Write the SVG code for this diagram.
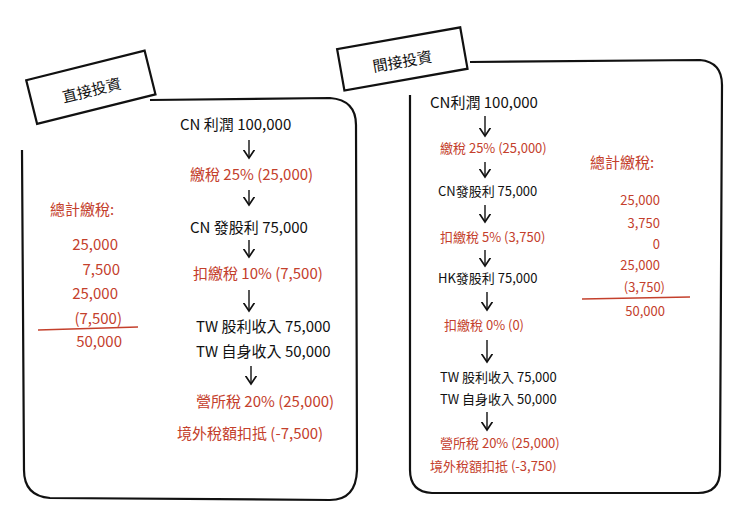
<svg xmlns="http://www.w3.org/2000/svg" width="740" height="514" viewBox="0 0 740 514">
<defs>
<style>
.t{font-family:"Noto Sans CJK TC","Noto Sans",sans-serif;font-size:15px;fill:#111}
.r{font-family:"Noto Sans CJK TC","Noto Sans",sans-serif;font-size:15px;fill:#c4402c}
.s{font-size:13px}
.box{fill:none;stroke:#111;stroke-width:2.2}
.ln{stroke:#111;stroke-width:1.4;fill:none}
.rl{stroke:#c4402c;stroke-width:1.6}
</style>
<marker id="a" markerWidth="8" markerHeight="8" refX="6" refY="4" orient="auto"><path d="M0,0 L6,4 L0,8" fill="none" stroke="#111" stroke-width="1.2"/></marker>
</defs>
<rect width="740" height="514" fill="#fff"/>
<g id="left-panel">
<path class="box" d="M150,100 L330,98 Q356,100 356,125 L357,470 Q356,500 330,500 L50,498 Q24,496 24,470 L22,150"/>
<g transform="rotate(-14 90 88)"><rect class="box" x="30" y="65" width="122" height="45" fill="#fff"/>
<text class="t" x="91" y="96" text-anchor="middle" font-size="20">直接投資</text></g>
</g>
<g id="right-panel">
<path class="box" d="M470,62 L700,60 Q722,62 722,85 L720,470 Q720,493 698,493 L432,493 Q410,492 410,470 L410,95"/>
<g transform="rotate(-10 402 60)"><rect class="box" x="340" y="38" width="125" height="42" fill="#fff"/>
<text class="t" x="402" y="67" text-anchor="middle" font-size="20">間接投資</text></g>
</g>
<g id="left-flow">
<text class="t" x="180" y="130">CN 利潤 100,000</text>
<text class="r" x="190" y="180">繳稅 25% (25,000)</text>
<text class="t" x="190" y="233">CN 發股利 75,000</text>
<text class="r" x="193" y="279">扣繳稅 10% (7,500)</text>
<text class="t" x="196" y="332">TW 股利收入 75,000</text>
<text class="t" x="196" y="357">TW 自身收入 50,000</text>
<text class="r" x="196" y="407">營所稅 20% (25,000)</text>
<text class="r" x="177" y="439">境外稅額扣抵 (-7,500)</text>
</g>
<g id="left-total">
<text class="r" x="50" y="215">總計繳稅:</text>
<g text-anchor="end"><text class="r" x="118" y="250">25,000</text><text class="r" x="120" y="275">7,500</text><text class="r" x="118" y="299">25,000</text><text class="r" x="122" y="324">(7,500)</text><text class="r" x="122" y="347">50,000</text></g>
<line class="rl" x1="38" y1="330" x2="138" y2="327"/>
</g>
<g id="right-flow">
<text class="t" x="430" y="108" font-size="14">CN利潤 100,000</text>
<text class="r s" x="440" y="153">繳稅 25% (25,000)</text>
<text class="t s" x="438" y="196">CN發股利 75,000</text>
<text class="r s" x="440" y="242">扣繳稅 5% (3,750)</text>
<text class="t s" x="438" y="283">HK發股利 75,000</text>
<text class="r s" x="444" y="330">扣繳稅 0% (0)</text>
<text class="t s" x="440" y="382">TW 股利收入 75,000</text>
<text class="t s" x="440" y="404">TW 自身收入 50,000</text>
<text class="r s" x="440" y="448">營所稅 20% (25,000)</text>
<text class="r s" x="430" y="471">境外稅額扣抵 (-3,750)</text>
</g>
<g id="right-total">
<text class="r" x="590" y="168">總計繳稅:</text>
<g text-anchor="end"><text class="r s" x="660" y="205">25,000</text><text class="r s" x="660" y="228">3,750</text><text class="r s" x="660" y="249">0</text><text class="r s" x="660" y="270">25,000</text><text class="r s" x="665" y="292">(3,750)</text><text class="r s" x="665" y="316">50,000</text></g>
<line class="rl" x1="582" y1="299" x2="690" y2="297"/>
</g>
<g id="connectors" class="ln">
<line x1="249" y1="140" x2="249" y2="158" marker-end="url(#a)"/>
<line x1="249" y1="190" x2="249" y2="205" marker-end="url(#a)"/>
<line x1="249" y1="240" x2="249" y2="257" marker-end="url(#a)"/>
<line x1="249" y1="290" x2="249" y2="311" marker-end="url(#a)"/>
<line x1="251" y1="366" x2="251" y2="384" marker-end="url(#a)"/>
<line x1="485" y1="116" x2="485" y2="136" marker-end="url(#a)"/>
<line x1="485" y1="162" x2="485" y2="177" marker-end="url(#a)"/>
<line x1="485" y1="205" x2="485" y2="222" marker-end="url(#a)"/>
<line x1="485" y1="250" x2="485" y2="266" marker-end="url(#a)"/>
<line x1="487" y1="292" x2="487" y2="310" marker-end="url(#a)"/>
<line x1="487" y1="340" x2="487" y2="362" marker-end="url(#a)"/>
<line x1="487" y1="412" x2="487" y2="430" marker-end="url(#a)"/>
</g>
</svg>
